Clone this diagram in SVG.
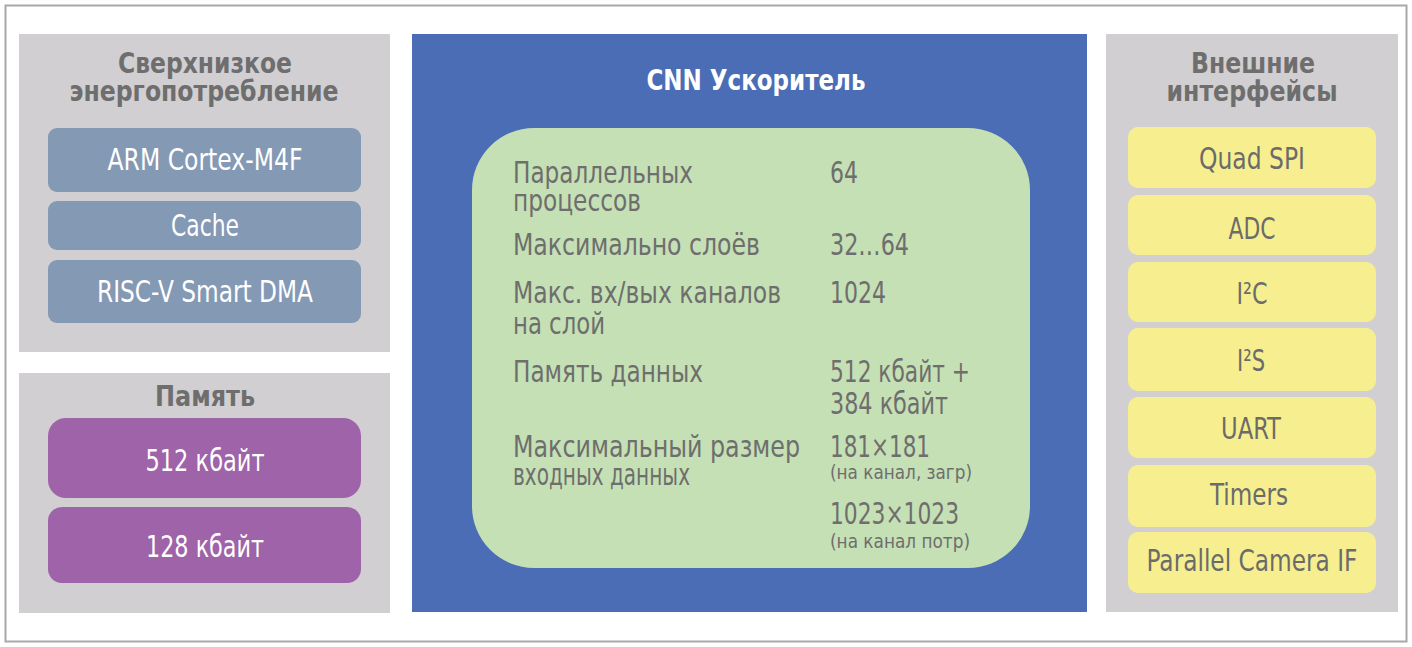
<svg xmlns="http://www.w3.org/2000/svg" width="1412" height="647" viewBox="0 0 1412 647">
<style>
text{font-family:"DejaVu Sans Condensed","Liberation Sans Narrow","Liberation Sans",sans-serif;}
.ttl{font-weight:bold;font-size:28px;fill:#6e6e6e;text-anchor:middle;}
.panel{fill:#d1cfd1;}
.bx{font-size:30px;fill:#ffffff;text-anchor:middle;}
.yt{font-size:30px;fill:#6b6b6b;text-anchor:middle;}
.gt{font-size:30px;fill:#6e6e6e;}
.sm{font-size:20px;fill:#6e6e6e;}
.cpu{fill:#8499b4;}
.mem{fill:#9e63a8;}
.io{fill:#f7ef8f;}
</style>
<rect x="5.5" y="5.5" width="1401" height="636" fill="#ffffff" stroke="#a8a8a8" stroke-width="2"/>
<g id="power">
<rect class="panel" x="19" y="34" width="371" height="318"/>
<text class="ttl" x="205" y="73" textLength="174" lengthAdjust="spacingAndGlyphs">Сверхнизкое</text>
<text class="ttl" x="204" y="101" textLength="269" lengthAdjust="spacingAndGlyphs">энергопотребление</text>
</g>
<g id="arm"><rect class="cpu" x="48" y="128" width="313" height="64" rx="9"/><text class="bx" x="205" y="170" textLength="195" lengthAdjust="spacingAndGlyphs">ARM Cortex-M4F</text></g>
<g id="cache"><rect class="cpu" x="48" y="201" width="313" height="49" rx="9"/><text class="bx" x="205" y="236" textLength="68" lengthAdjust="spacingAndGlyphs">Cache</text></g>
<g id="riscv"><rect class="cpu" x="48" y="260" width="313" height="63" rx="9"/><text class="bx" x="205" y="302" textLength="216" lengthAdjust="spacingAndGlyphs">RISC-V Smart DMA</text></g>
<g id="memory">
<rect class="panel" x="19" y="373" width="371" height="240"/>
<text class="ttl" x="205" y="406" textLength="100" lengthAdjust="spacingAndGlyphs">Память</text>
</g>
<g id="mem512"><rect class="mem" x="48" y="418" width="313" height="80" rx="18"/><text class="bx" x="205" y="471" textLength="119" lengthAdjust="spacingAndGlyphs">512 кбайт</text></g>
<g id="mem128"><rect class="mem" x="48" y="507" width="313" height="76" rx="14"/><text class="bx" x="205" y="557" textLength="118" lengthAdjust="spacingAndGlyphs">128 кбайт</text></g>
<g id="cnn">
<rect x="412" y="34" width="675" height="578" fill="#4a6db5"/>
<text x="756" y="90" font-weight="bold" font-size="28" fill="#ffffff" text-anchor="middle" textLength="219" lengthAdjust="spacingAndGlyphs">CNN Ускоритель</text>
<rect x="472" y="128" width="558" height="440" rx="62" fill="#c5e0b4"/>
<text class="gt" x="513" y="183" textLength="180" lengthAdjust="spacingAndGlyphs">Параллельных</text>
<text class="gt" x="513" y="211" textLength="128" lengthAdjust="spacingAndGlyphs">процессов</text>
<text class="gt" x="513" y="255" textLength="247" lengthAdjust="spacingAndGlyphs">Максимально слоёв</text>
<text class="gt" x="513" y="303" textLength="268" lengthAdjust="spacingAndGlyphs">Макс. вх/вых каналов</text>
<text class="gt" x="513" y="334" textLength="92" lengthAdjust="spacingAndGlyphs">на слой</text>
<text class="gt" x="513" y="382" textLength="190" lengthAdjust="spacingAndGlyphs">Память данных</text>
<text class="gt" x="513" y="457" textLength="287" lengthAdjust="spacingAndGlyphs">Максимальный размер</text>
<text class="gt" x="513" y="485" textLength="177" lengthAdjust="spacingAndGlyphs">входных данных</text>
<text class="gt" x="830" y="183" textLength="28" lengthAdjust="spacingAndGlyphs">64</text>
<text class="gt" x="830" y="255" textLength="79" lengthAdjust="spacingAndGlyphs">32…64</text>
<text class="gt" x="830" y="303" textLength="56" lengthAdjust="spacingAndGlyphs">1024</text>
<text class="gt" x="830" y="382" textLength="140" lengthAdjust="spacingAndGlyphs">512 кбайт +</text>
<text class="gt" x="830" y="414" textLength="118" lengthAdjust="spacingAndGlyphs">384 кбайт</text>
<text class="gt" x="830" y="457" textLength="100" lengthAdjust="spacingAndGlyphs">181×181</text>
<text class="sm" x="830" y="479" textLength="142" lengthAdjust="spacingAndGlyphs">(на канал, загр)</text>
<text class="gt" x="830" y="524" textLength="129" lengthAdjust="spacingAndGlyphs">1023×1023</text>
<text class="sm" x="830" y="548" textLength="140" lengthAdjust="spacingAndGlyphs">(на канал потр)</text>
</g>
<g id="interfaces">
<rect class="panel" x="1106" y="34" width="292" height="578"/>
<text class="ttl" x="1253" y="73" textLength="124" lengthAdjust="spacingAndGlyphs">Внешние</text>
<text class="ttl" x="1252" y="101" textLength="171" lengthAdjust="spacingAndGlyphs">интерфейсы</text>
</g>
<g id="qspi"><rect class="io" x="1128" y="127" width="248" height="61" rx="10"/><text class="yt" x="1252" y="169" textLength="106" lengthAdjust="spacingAndGlyphs">Quad SPI</text></g>
<g id="adc"><rect class="io" x="1128" y="195" width="248" height="60" rx="10"/><text class="yt" x="1252" y="239" textLength="47" lengthAdjust="spacingAndGlyphs">ADC</text></g>
<g id="i2c"><rect class="io" x="1128" y="262" width="248" height="60" rx="10"/><text class="yt" x="1252" y="304" textLength="31" lengthAdjust="spacingAndGlyphs">I²C</text></g>
<g id="i2s"><rect class="io" x="1128" y="328" width="248" height="63" rx="10"/><text class="yt" x="1251" y="371" textLength="28" lengthAdjust="spacingAndGlyphs">I²S</text></g>
<g id="uart"><rect class="io" x="1128" y="397" width="248" height="61" rx="10"/><text class="yt" x="1251" y="439" textLength="60" lengthAdjust="spacingAndGlyphs">UART</text></g>
<g id="timers"><rect class="io" x="1128" y="465" width="248" height="62" rx="10"/><text class="yt" x="1249" y="505" textLength="78" lengthAdjust="spacingAndGlyphs">Timers</text></g>
<g id="camera"><rect class="io" x="1128" y="532" width="248" height="61" rx="10"/><text class="yt" x="1252" y="571" textLength="211" lengthAdjust="spacingAndGlyphs">Parallel Camera IF</text></g>
<g id="connectors"/>
</svg>
